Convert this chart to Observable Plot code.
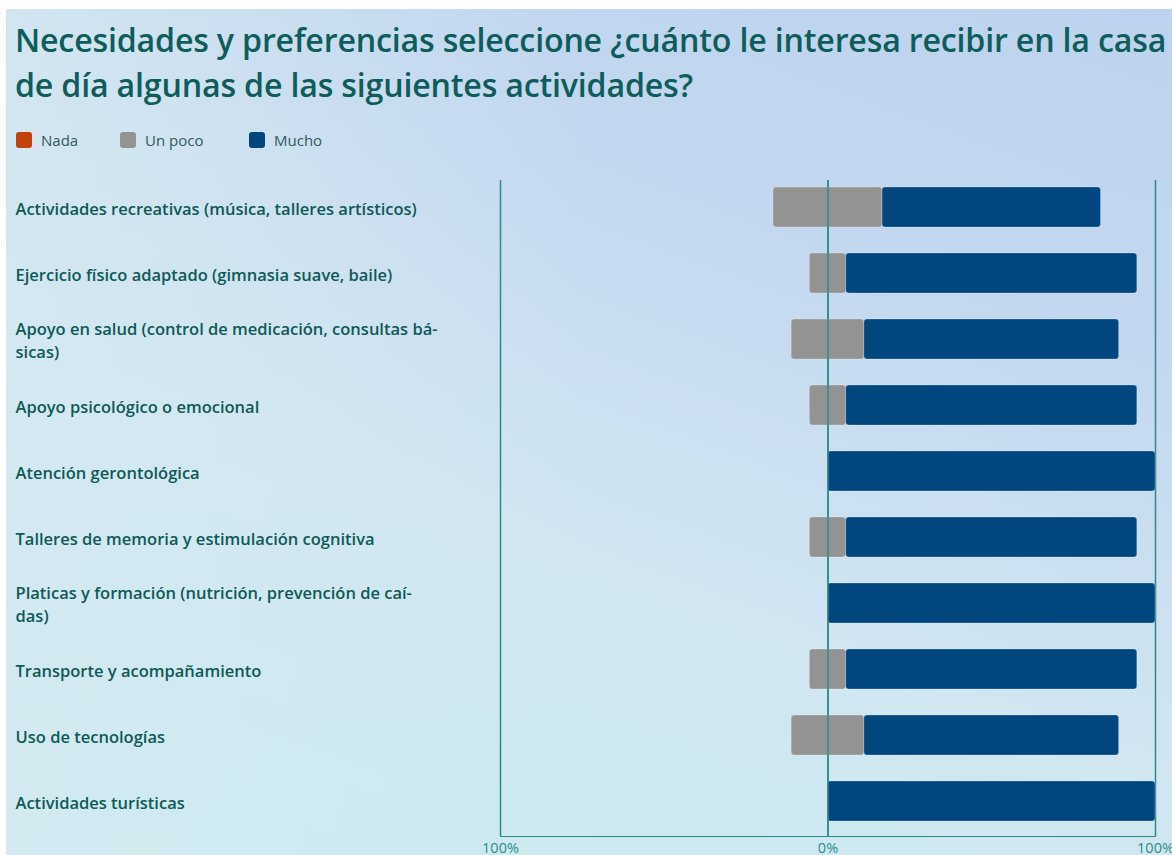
<!DOCTYPE html>
<html>
<head>
<meta charset="utf-8">
<script src="https://cdn.jsdelivr.net/npm/d3@7"></script>
<script src="https://cdn.jsdelivr.net/npm/@observablehq/plot@0.6"></script>
<style>
  html, body { margin: 0; padding: 0; background: #ffffff; }
  body { width: 1172px; height: 855px; position: relative; overflow: hidden; font-family: "Open Sans", "Noto Sans", sans-serif; }
  #panel { position: absolute; left: 6px; top: 9px; width: 1166px; height: 846px;
    background:
      linear-gradient(90deg, rgba(214,233,241,0.75) 0%, rgba(214,233,241,0) 50%),
      linear-gradient(200deg, #bcd2ee 0%, #c4d8f0 30%, #d1e6f1 60%, #c8ecef 100%); }
  #title { position: absolute; left: 15px; top: 17px; color: #0e5d5a; font-weight: 600; font-size: 32.2px; line-height: 45px; white-space: nowrap; letter-spacing: -0.2px; }
  #legend { position: absolute; left: 16px; top: 130px; display: flex; align-items: center; font-size: 15px; color: #2f5b5a; }
  .item { display: flex; align-items: center; }
  .sw { width: 16px; height: 16px; border-radius: 3px; margin-right: 9px; }
  #chart { position: absolute; left: 0; top: 160px; }
</style>
</head>
<body>
<div id="panel"></div>
<div id="title">Necesidades y preferencias seleccione ¿cuánto le interesa recibir en la casa<br>de día algunas de las siguientes actividades?</div>
<div id="legend"></div>
<div id="chart"></div>
<script>
// Data (percent of respondents)
const categories = [
  "Actividades recreativas (música, talleres artísticos)",
  "Ejercicio físico adaptado (gimnasia suave, baile)",
  "Apoyo en salud (control de medicación, consultas básicas)",
  "Apoyo psicológico o emocional",
  "Atención gerontológica",
  "Talleres de memoria y estimulación cognitiva",
  "Platicas y formación (nutrición, prevención de caídas)",
  "Transporte y acompañamiento",
  "Uso de tecnologías",
  "Actividades turísticas"
];
const labelText = [
  "Actividades recreativas (música, talleres artísticos)",
  "Ejercicio físico adaptado (gimnasia suave, baile)",
  "Apoyo en salud (control de medicación, consultas bá-\nsicas)",
  "Apoyo psicológico o emocional",
  "Atención gerontológica",
  "Talleres de memoria y estimulación cognitiva",
  "Platicas y formación (nutrición, prevención de caí-\ndas)",
  "Transporte y acompañamiento",
  "Uso de tecnologías",
  "Actividades turísticas"
];
const nada   = [0, 0, 0, 0, 0, 0, 0, 0, 0, 0];
const unPoco = [33.3, 11.1, 22.2, 11.1, 0, 11.1, 0, 11.1, 22.2, 0];
const mucho  = [66.7, 88.9, 77.8, 88.9, 100, 88.9, 100, 88.9, 77.8, 100];
const seriesNames = ["Nada", "Un poco", "Mucho"];
const seriesColors = ["#c1410f", "#939393", "#00467f"];
const xTicks = [-100, 0, 100];

// Build diverging segments
const segs = [];
categories.forEach((c, i) => {
  const half = unPoco[i] / 2;
  segs.push({cat: c, s: "Nada", x1: -(half + nada[i]), x2: -half});
  segs.push({cat: c, s: "Un poco", x1: -half, x2: half});
  segs.push({cat: c, s: "Mucho", x1: half, x2: half + mucho[i]});
});
const visible = segs.filter(d => d.x2 - d.x1 > 0);

// Legend
const lg = document.getElementById("legend");
seriesNames.forEach((n, i) => {
  const it = document.createElement("div");
  it.className = "item";
  it.style.width = i === 0 ? "104px" : (i === 1 ? "129px" : "auto");
  const sw = document.createElement("div");
  sw.className = "sw";
  sw.style.background = seriesColors[i];
  const t = document.createElement("span");
  t.textContent = n;
  it.appendChild(sw); it.appendChild(t);
  lg.appendChild(it);
});

const labels = categories.map((c, i) => ({cat: c, text: labelText[i]}));

const chart = Plot.plot({
  width: 1172,
  height: 695,
  marginLeft: 500,
  marginRight: 17,
  marginTop: 12,
  marginBottom: 19,
  style: {background: "transparent", color: "#2a8c8a", fontFamily: "'Open Sans', 'Noto Sans', sans-serif", fontSize: "14.5px", overflow: "visible"},
  x: {domain: [-100, 100], ticks: xTicks, tickFormat: d => Math.abs(d) + "%", tickSize: 0, tickPadding: 6, line: true, label: null},
  y: {domain: categories, padding: 0, axis: null},
  color: {domain: seriesNames, range: seriesColors},
  marks: [
    Plot.ruleX(xTicks, {stroke: "#2a8c8a", strokeWidth: 1.5, insetTop: 8}),
    Plot.barX(visible, {y: "cat", x1: "x1", x2: "x2", fill: "s", insetTop: 13, insetBottom: 13, rx: 3, stroke: "#ffffff", strokeOpacity: 0.25, strokeWidth: 1}),
    Plot.ruleX([0], {stroke: "#2a8c8a", strokeWidth: 1.5, insetTop: 8}),
    Plot.text(labels, {y: "cat", text: "text", frameAnchor: "left", textAnchor: "start", dx: -485, fill: "#0e5a57", fontSize: 16.5, fontWeight: 600, lineHeight: 1.4})
  ]
});
document.getElementById("chart").appendChild(chart);
</script>
</body>
</html>
